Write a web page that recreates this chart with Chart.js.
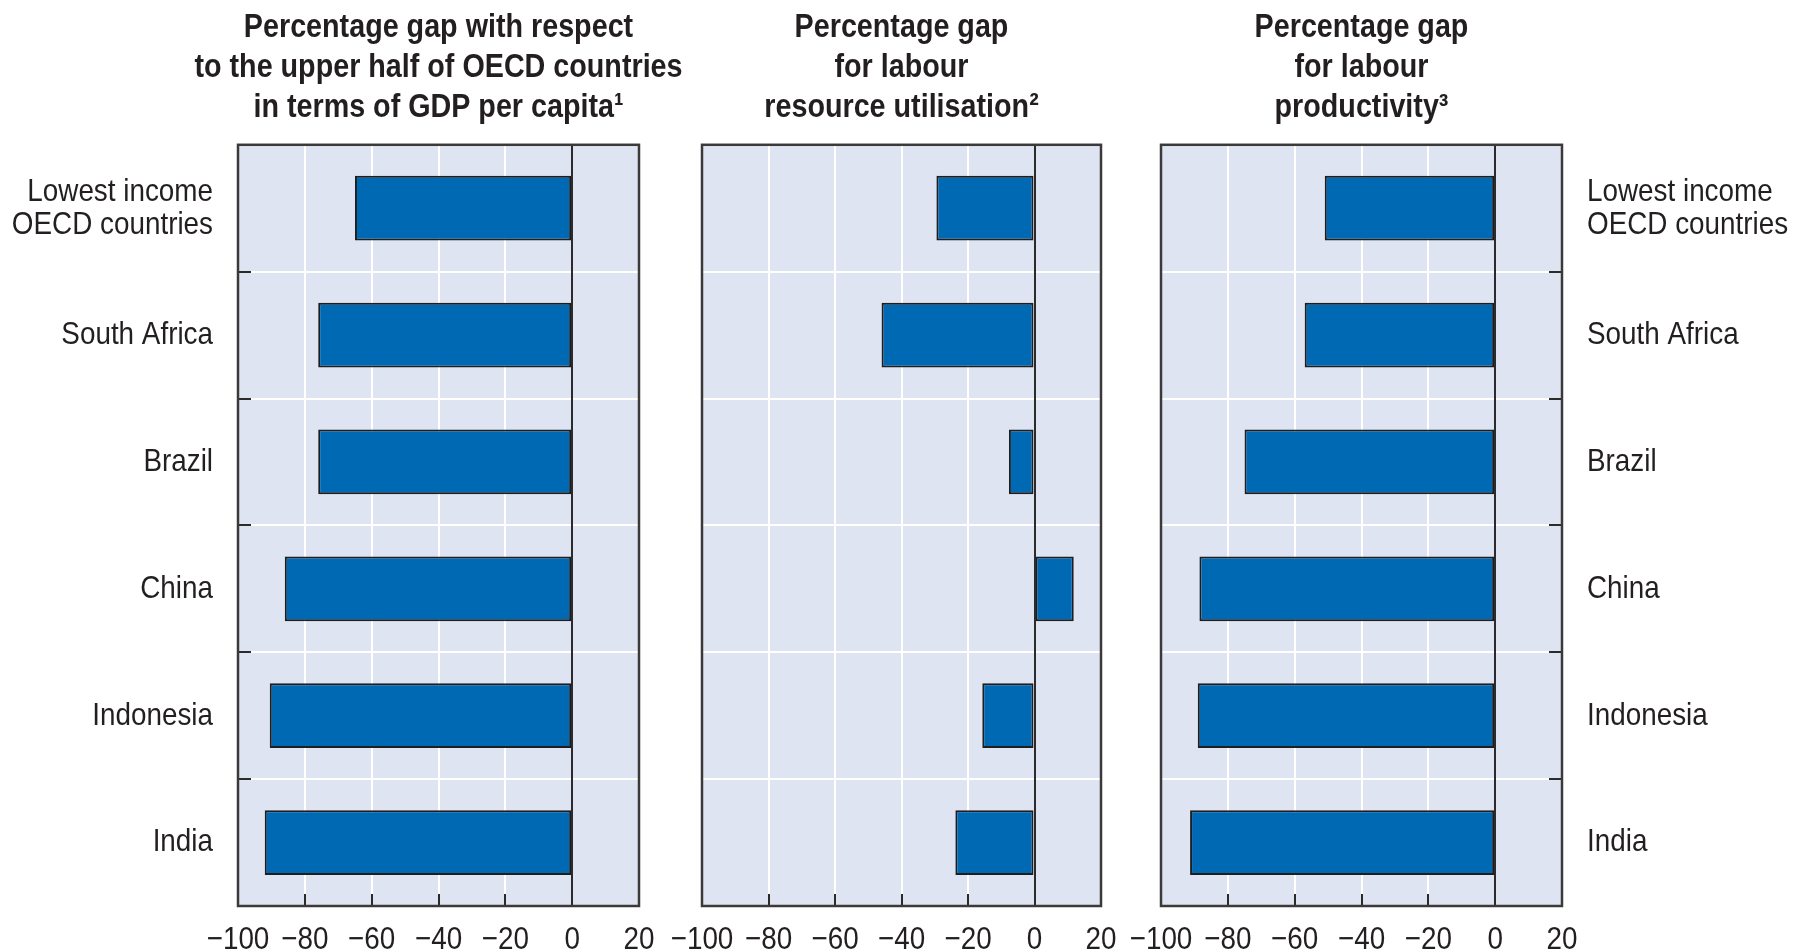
<!DOCTYPE html>
<html><head><meta charset="utf-8">
<script src="https://cdn.jsdelivr.net/npm/chart.js@4"></script>
<style>
html,body{margin:0;padding:0;background:#fff;}
#wrap{position:relative;width:1798px;height:952px;overflow:hidden;}
canvas{position:absolute;left:0;top:0;}
</style></head><body>
<div id="wrap">
<canvas id="c1" width="1798" height="952"></canvas>
<canvas id="c2" width="1798" height="952"></canvas>
<canvas id="c3" width="1798" height="952"></canvas>
</div>
<script>
// ---- data ----
const categories = [['Lowest income', 'OECD countries'], 'South Africa', 'Brazil', 'China', 'Indonesia', 'India'];
const gdpPerCapitaGap = [-65, -76, -76, -86, -90.5, -92];
const labourUtilisationGap = [-29.5, -46, -7.7, 11.8, -15.7, -23.8];
const labourProductivityGap = [-51, -57, -75, -88.5, -89, -91.3];
const xMin = -100, xMax = 20, xStep = 20;
const title1 = ['Percentage gap with respect', 'to the upper half of OECD countries', 'in terms of GDP per capita\u00B9'];
const title2 = ['Percentage gap', 'for labour', 'resource utilisation\u00B2'];
const title3 = ['Percentage gap', 'for labour', 'productivity\u00B3'];

// ---- styling ----
const FONT = "'Liberation Sans', Arial, sans-serif";
const XSCALE = 0.87;           // horizontal condensing of all text
const TEXT = '#231f20';
const BAR = '#0069b4';
const PLOTBG = '#dfe4f2';
const DARK = '#2b2b2b';

const condensePlugin = {
  id: 'condense',
  afterInit(chart) {
    const ctx = chart.ctx;
    if (ctx.__condensed) return;
    const orig = ctx.fillText.bind(ctx);
    ctx.fillText = function (text, x, y) {
      this.save();
      this.translate(x, y);
      this.scale(XSCALE, 1);
      orig(text, 0, 0);
      this.restore();
    };
    ctx.__condensed = true;
  }
};

const panelPlugin = {
  id: 'panelDeco',
  beforeDraw(chart) {
    const {ctx, chartArea: a} = chart;
    ctx.save();
    ctx.fillStyle = PLOTBG;
    ctx.fillRect(a.left, a.top, a.right - a.left, a.bottom - a.top);
    ctx.restore();
  },
  afterDatasetsDraw(chart, args, opts) {
    const {ctx, chartArea: a} = chart;
    const xs = chart.scales.x, ys = chart.scales.y;
    ctx.save();
    ctx.strokeStyle = DARK;
    const x0 = Math.round(xs.getPixelForValue(0));
    ctx.lineWidth = 2;
    ctx.beginPath(); ctx.moveTo(x0, a.top); ctx.lineTo(x0, a.bottom); ctx.stroke();
    for (let v = xMin + xStep; v < xMax; v += xStep) {
      const px = Math.round(xs.getPixelForValue(v));
      ctx.beginPath(); ctx.moveTo(px, a.bottom); ctx.lineTo(px, a.bottom - 12); ctx.stroke();
    }
    if (opts.catTicks) {
      for (let i = 0; i < categories.length - 1; i++) {
        const py = Math.round((ys.getPixelForValue(i) + ys.getPixelForValue(i + 1)) / 2);
        ctx.beginPath();
        if (opts.catTicks === 'left') { ctx.moveTo(a.left, py); ctx.lineTo(a.left + 13, py); }
        else { ctx.moveTo(a.right, py); ctx.lineTo(a.right - 13, py); }
        ctx.stroke();
      }
    }
    ctx.lineWidth = 2.5;
    ctx.strokeStyle = '#3a3a3a';
    ctx.strokeRect(a.left, a.top, a.right - a.left, a.bottom - a.top);
    ctx.restore();
  }
};

function fmt(v) { return v < 0 ? '\u2212' + Math.abs(v) : String(v); }

function makePanel(id, title, values, o) {
  return new Chart(document.getElementById(id), {
    type: 'bar',
    data: {
      labels: categories,
      datasets: [{
        data: values,
        backgroundColor: BAR,
        borderColor: '#1e1e1e',
        borderWidth: 2,
        borderSkipped: false,
        barPercentage: 0.51,
        categoryPercentage: 1.0
      }]
    },
    options: {
      indexAxis: 'y',
      responsive: false,
      animation: false,
      devicePixelRatio: 1,
      layout: {padding: {left: o.padLeft, right: o.padRight, top: 0, bottom: 0}},
      plugins: {
        legend: {display: false},
        tooltip: {enabled: false},
        title: {
          display: true,
          text: title,
          fullSize: false,
          color: TEXT,
          font: {family: FONT, size: 33, weight: 'bold', lineHeight: 1.21},
          padding: {top: 8, bottom: 17}
        },
        panelDeco: {catTicks: o.catTicks}
      },
      scales: {
        x: {
          min: xMin, max: xMax,
          grid: {color: '#ffffff', lineWidth: 2, drawTicks: false},
          border: {display: false},
          ticks: {
            stepSize: xStep,
            color: TEXT,
            padding: 15,
            maxRotation: 0,
            autoSkip: false,
            font: {family: FONT, size: 32},
            callback: (v) => fmt(v)
          },
          afterFit: (s) => { s.height = 46; s.paddingTop = 0; s.paddingBottom = 0; }
        },
        y: {
          position: o.yPos,
          grid: {color: '#ffffff', lineWidth: 2, drawTicks: false, offset: true},
          border: {display: false},
          ticks: {
            display: o.showLabels,
            color: TEXT,
            padding: 25,
            font: {family: FONT, size: 32, lineHeight: 1.03}
          },
          afterFit: (s) => { s.width = o.yWidth; s.paddingTop = 0; s.paddingBottom = 0; }
        }
      }
    },
    plugins: [condensePlugin, panelPlugin]
  });
}

makePanel('c1', title1, gdpPerCapitaGap, {padLeft: 0, padRight: 1798 - 639, yPos: 'left', yWidth: 238, showLabels: true, catTicks: 'left'});
makePanel('c2', title2, labourUtilisationGap, {padLeft: 0, padRight: 1798 - 1101, yPos: 'left', yWidth: 702, showLabels: false, catTicks: null});
makePanel('c3', title3, labourProductivityGap, {padLeft: 1161, padRight: 0, yPos: 'right', yWidth: 1798 - 1562, showLabels: true, catTicks: 'right'});
</script>
</body></html>
